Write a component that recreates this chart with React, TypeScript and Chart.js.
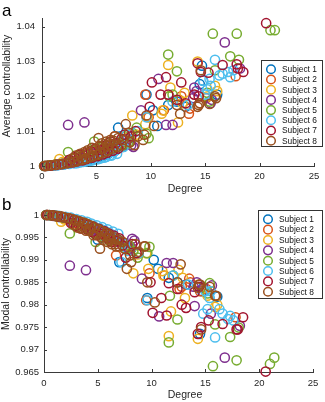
import React, { useEffect, useRef } from "react";
import { Chart, registerables } from "chart.js";
Chart.register(...registerables);

const subjects = ["Subject 1", "Subject 2", "Subject 3", "Subject 4", "Subject 5", "Subject 6", "Subject 7", "Subject 8"];
const colors = ["#0072BD", "#D95319", "#EDB120", "#7E2F8E", "#77AC30", "#4DBEEE", "#A2142F", "#99501F"];

const degreeTicks = [0, 5, 10, 15, 20, 25];
const avgTicks = [1, 1.01, 1.02, 1.03, 1.04];
const modalTicks = [0.965, 0.97, 0.975, 0.98, 0.985, 0.99, 0.995, 1];

const deg1 = [0.2,0.6,1.1,1.5,2.0,2.4,2.9,3.3,3.8,4.2,4.6,5.0,5.5,5.9,6.3,6.8,7.0,7.4,8.1,9.6,10.2,10.6,11.6,12.4,13.2,14.5,14.7,14.8,16.1,3.0,3.5,4.4,5.2,5.7,6.1,6.6,7.7];
const avg1 = [1.0000,1.0001,1.0002,1.0003,1.0005,1.0007,1.0009,1.0011,1.0014,1.0017,1.0020,1.0024,1.0029,1.0033,1.0040,1.0046,1.0110,1.0055,1.0070,1.0205,1.0160,1.0115,1.0175,1.0185,1.0170,1.0235,1.0288,1.0245,1.0205,1.0010,1.0013,1.0019,1.0025,1.0030,1.0036,1.0042,1.0062];
const mod1 = [1.0000,0.9999,0.9998,0.9995,0.9993,0.9990,0.9987,0.9983,0.9979,0.9975,0.9968,0.9945,0.9960,0.9955,0.9950,0.9944,0.9895,0.9938,0.9925,0.9815,0.9900,0.9880,0.9860,0.9850,0.9845,0.9735,0.9830,0.9838,0.9818,0.9984,0.9980,0.9972,0.9965,0.9958,0.9952,0.9946,0.9928];

const deg2 = [0.3,0.7,1.2,1.7,2.1,2.6,3.0,3.5,3.9,4.4,4.8,5.3,5.7,6.2,6.7,7.1,8.0,9.5,9.8,11.2,12.6,12.8,13.5,13.6,14.5,15.1,17.8,2.9,3.6,4.1,4.7,5.1,6.0,6.5,7.6];
const avg2 = [1.0000,1.0001,1.0003,1.0005,1.0007,1.0010,1.0013,1.0016,1.0020,1.0024,1.0028,1.0033,1.0038,1.0045,1.0085,1.0060,1.0070,1.0205,1.0140,1.0160,1.0190,1.0200,1.0150,1.0165,1.0180,1.0195,1.0258,1.0020,1.0026,1.0030,1.0040,1.0042,1.0052,1.0060,1.0075];
const mod2 = [1.0000,0.9999,0.9997,0.9995,0.9992,0.9989,0.9986,0.9982,0.9978,0.9973,0.9969,0.9963,0.9958,0.9952,0.9910,0.9940,0.9930,0.9810,0.9870,0.9865,0.9835,0.9840,0.9858,0.9850,0.9830,0.9835,0.9772,0.9982,0.9976,0.9972,0.9964,0.9960,0.9950,0.9943,0.9930];

const deg3 = [0.4,0.8,1.3,1.6,2.2,2.7,3.1,3.6,4.0,4.5,5.0,5.4,5.9,6.4,6.9,7.3,8.3,8.7,9.5,9.7,11.0,11.1,11.6,11.8,12.5,12.9,13.1,14.3,15.2,15.9,16.1,1.9,2.5,3.4,4.2,4.7,5.6,6.2,7.8];
const avg3 = [1.0000,1.0002,1.0004,1.0020,1.0008,1.0011,1.0014,1.0018,1.0022,1.0026,1.0031,1.0036,1.0041,1.0047,1.0053,1.0060,1.0145,1.0090,1.0120,1.0140,1.0150,1.0160,1.0290,1.0225,1.0125,1.0180,1.0210,1.0300,1.0200,1.0230,1.0215,1.0012,1.0016,1.0024,1.0030,1.0038,1.0046,1.0055,1.0080];
const mod3 = [1.0000,0.9999,0.9997,0.9985,0.9991,0.9988,0.9985,0.9981,0.9977,0.9972,0.9967,0.9962,0.9956,0.9950,0.9944,0.9938,0.9870,0.9912,0.9915,0.9880,0.9875,0.9865,0.9730,0.9785,0.9878,0.9860,0.9815,0.9724,0.9820,0.9795,0.9800,0.9990,0.9984,0.9978,0.9972,0.9965,0.9957,0.9948,0.9922];

const deg4 = [0.3,0.9,1.4,1.9,2.4,2.8,3.3,3.7,3.9,4.3,4.8,5.2,5.8,6.1,6.6,7.0,7.5,8.2,8.4,9.1,10.7,11.4,12.0,13.9,14.0,14.2,15.5,15.6,16.8,18.2,2.6,3.5,4.1,4.6,5.5,6.4,6.9,7.9];
const avg4 = [1.0000,1.0002,1.0004,1.0006,1.0118,1.0011,1.0014,1.0017,1.0125,1.0022,1.0027,1.0031,1.0037,1.0041,1.0047,1.0052,1.0058,1.0060,1.0055,1.0160,1.0250,1.0118,1.0118,1.0195,1.0225,1.0215,1.0180,1.0190,1.0355,1.0280,1.0016,1.0024,1.0030,1.0036,1.0045,1.0058,1.0065,1.0078];
const mod4 = [1.0000,0.9998,0.9997,0.9994,0.9887,0.9989,0.9985,0.9981,0.9877,0.9973,0.9968,0.9963,0.9957,0.9953,0.9948,0.9943,0.9937,0.9947,0.9943,0.9858,0.9774,0.9893,0.9893,0.9840,0.9797,0.9850,0.9780,0.9843,0.9682,0.9753,0.9984,0.9976,0.9970,0.9965,0.9955,0.9946,0.9940,0.9925];

const deg5 = [0.2,0.7,1.2,1.8,2.4,2.9,3.4,3.8,4.3,4.8,5.3,5.8,6.3,6.8,7.3,7.9,8.7,9.6,9.8,11.6,11.7,12.0,12.4,15.2,15.4,15.7,15.9,17.3,17.9,18.1,21.0,21.4,3.1,4.0,4.6,5.6,6.1,6.6,7.6,8.3];
const avg5 = [1.0000,1.0002,1.0004,1.0006,1.0040,1.0012,1.0015,1.0019,1.0023,1.0070,1.0033,1.0039,1.0044,1.0050,1.0057,1.0065,1.0110,1.0093,1.0080,1.0320,1.0200,1.0205,1.0272,1.0210,1.0185,1.0380,1.0275,1.0315,1.0380,1.0305,1.0390,1.0390,1.0025,1.0032,1.0045,1.0055,1.0066,1.0060,1.0085,1.0095];
const mod5 = [1.0000,0.9999,0.9997,0.9994,0.9959,0.9988,0.9984,0.9980,0.9975,0.9940,0.9963,0.9958,0.9953,0.9946,0.9940,0.9932,0.9905,0.9915,0.9929,0.9716,0.9820,0.9865,0.9767,0.9825,0.9848,0.9663,0.9756,0.9728,0.9676,0.9749,0.9668,0.9682,0.9976,0.9970,0.9960,0.9950,0.9942,0.9946,0.9925,0.9920];

const deg6 = [0.5,1.0,1.4,2.0,2.5,3.0,3.5,4.0,4.4,4.9,5.4,5.9,6.4,6.9,7.2,7.8,8.8,9.6,12.0,13.4,14.8,15.0,15.2,15.4,15.5,15.9,16.3,16.6,17.1,17.3,17.6,3.2,3.8,4.6,5.2,5.7,6.2,6.6,7.5];
const avg6 = [1.0000,1.0001,1.0002,1.0004,1.0006,1.0008,1.0010,1.0013,1.0015,1.0018,1.0022,1.0026,1.0030,1.0035,1.0070,1.0090,1.0100,1.0140,1.0185,1.0175,1.0245,1.0205,1.0220,1.0250,1.0230,1.0305,1.0260,1.0265,1.0270,1.0255,1.0275,1.0008,1.0012,1.0016,1.0020,1.0024,1.0030,1.0040,1.0055];
const mod6 = [1.0000,0.9999,0.9998,0.9996,0.9994,0.9991,0.9988,0.9985,0.9981,0.9977,0.9973,0.9968,0.9963,0.9958,0.9895,0.9920,0.9915,0.9810,0.9865,0.9845,0.9780,0.9830,0.9790,0.9815,0.9830,0.9727,0.9790,0.9780,0.9768,0.9775,0.9765,0.9986,0.9982,0.9976,0.9970,0.9964,0.9958,0.9950,0.9935];

const deg7 = [0.3,0.8,1.3,1.8,2.3,2.8,3.2,3.7,4.1,4.6,5.1,5.6,6.0,6.5,7.0,7.6,8.2,9.9,10.1,10.9,11.4,11.6,12.4,12.8,13.2,14.0,14.3,14.4,14.6,15.3,16.6,17.9,18.0,18.5,20.6,2.5,3.0,3.4,4.0,4.5,4.9,5.4,5.9,6.3,6.8,7.3,8.6];
const avg7 = [1.0000,1.0001,1.0003,1.0005,1.0008,1.0010,1.0013,1.0016,1.0020,1.0024,1.0028,1.0033,1.0038,1.0044,1.0050,1.0090,1.0085,1.0170,1.0240,1.0205,1.0255,1.0205,1.0190,1.0240,1.0180,1.0205,1.0295,1.0200,1.0270,1.0268,1.0290,1.0292,1.0280,1.0270,1.0410,1.0018,1.0025,1.0032,1.0036,1.0042,1.0050,1.0046,1.0060,1.0070,1.0066,1.0078,1.0100];
const mod7 = [1.0000,0.9999,0.9997,0.9995,0.9992,0.9989,0.9986,0.9982,0.9978,0.9974,0.9969,0.9964,0.9959,0.9954,0.9948,0.9905,0.9935,0.9850,0.9782,0.9815,0.9776,0.9848,0.9835,0.9800,0.9793,0.9828,0.9735,0.9840,0.9750,0.9765,0.9757,0.9745,0.9745,0.9772,0.9651,0.9982,0.9976,0.9970,0.9968,0.9962,0.9955,0.9958,0.9948,0.9940,0.9942,0.9932,0.9915];

const deg8 = [0.2,0.5,0.9,1.2,1.6,1.9,2.3,2.6,3.0,3.3,3.5,3.7,4.0,4.2,4.4,4.7,5.1,5.2,5.4,5.5,5.8,6.0,6.1,6.3,6.5,6.7,6.9,7.3,7.7,8.1,8.5,9.3,9.4,9.6,10.3,12.4,12.7,14.3,14.4,14.5,14.6,15.4,15.9,16.0,2.8,3.1,3.6,3.9,4.3,4.6,4.9,5.3,5.6,5.9,6.2,6.6,7.0,7.5,8.0,8.8];
const avg8 = [1.0000,1.0001,1.0002,1.0003,1.0005,1.0006,1.0008,1.0010,1.0012,1.0015,1.0035,1.0018,1.0021,1.0045,1.0025,1.0028,1.0032,1.0080,1.0036,1.0065,1.0040,1.0058,1.0045,1.0075,1.0050,1.0085,1.0055,1.0060,1.0120,1.0068,1.0060,1.0075,1.0090,1.0145,1.0115,1.0175,1.0150,1.0170,1.0175,1.0180,1.0275,1.0178,1.0200,1.0195,1.0022,1.0030,1.0028,1.0040,1.0038,1.0052,1.0048,1.0058,1.0050,1.0070,1.0062,1.0072,1.0080,1.0075,1.0095,1.0085];
const mod8 = [1.0000,1.0000,0.9999,0.9998,0.9997,0.9995,0.9993,0.9991,0.9988,0.9986,0.9970,0.9983,0.9980,0.9965,0.9976,0.9972,0.9968,0.9925,0.9964,0.9945,0.9960,0.9948,0.9955,0.9935,0.9950,0.9930,0.9945,0.9940,0.9880,0.9895,0.9935,0.9930,0.9930,0.9850,0.9805,0.9850,0.9890,0.9838,0.9845,0.9845,0.9745,0.9840,0.9820,0.9820,0.9978,0.9972,0.9975,0.9965,0.9968,0.9955,0.9958,0.9950,0.9955,0.9940,0.9945,0.9935,0.9930,0.9925,0.9910,0.9918];

const degrees = [deg1, deg2, deg3, deg4, deg5, deg6, deg7, deg8];
const avgValues = [avg1, avg2, avg3, avg4, avg5, avg6, avg7, avg8];
const modalValues = [mod1, mod2, mod3, mod4, mod5, mod6, mod7, mod8];

const FONT = "'Liberation Sans', Arial, Helvetica, sans-serif";
const AXIS = "#3a3a3a";
const TEXT = "#262626";

type Cfg = {
  values: number[][];
  yTicks: number[];
  yMin: number;
  yMax: number;
  yTitle: string;
  letter: string;
  letterY: number;
  xTitleY: number;
  yTitleX: number;
  yTitleY: number;
  legend: { x: number; y: number; w: number; h: number; first: number; step: number };
  padding: { top: number; right: number };
  yWidth: number;
  xHeight: number;
  xPad: number;
  yPad: number;
};

function decor(cfg: Cfg) {
  return {
    id: "decor",
    afterDraw(chart: any) {
      const ctx = chart.ctx;
      const ca = chart.chartArea;
      const xs = chart.scales.x;
      const ys = chart.scales.y;
      ctx.save();
      ctx.strokeStyle = AXIS;
      ctx.lineWidth = 1;
      ctx.beginPath();
      xs.ticks.forEach((t: any) => {
        const px = Math.round(xs.getPixelForValue(t.value)) + 0.5;
        ctx.moveTo(px, ca.bottom);
        ctx.lineTo(px, ca.bottom - 3);
      });
      ys.ticks.forEach((t: any) => {
        const py = Math.round(ys.getPixelForValue(t.value)) + 0.5;
        ctx.moveTo(ca.left, py);
        ctx.lineTo(ca.left + 3, py);
      });
      ctx.stroke();
      ctx.fillStyle = TEXT;
      ctx.font = `10.5px ${FONT}`;
      ctx.textAlign = "center";
      ctx.textBaseline = "middle";
      ctx.fillText("Degree", 185, cfg.xTitleY);
      ctx.save();
      ctx.translate(cfg.yTitleX, cfg.yTitleY);
      ctx.rotate(-Math.PI / 2);
      ctx.fillText(cfg.yTitle, 0, 0);
      ctx.restore();
      ctx.fillStyle = "#000";
      ctx.font = `17px ${FONT}`;
      ctx.textAlign = "left";
      ctx.textBaseline = "alphabetic";
      ctx.fillText(cfg.letter, 2, cfg.letterY);
      const L = cfg.legend;
      ctx.fillStyle = "#fff";
      ctx.fillRect(L.x, L.y, L.w, L.h);
      ctx.strokeStyle = "#333";
      ctx.lineWidth = 1;
      ctx.strokeRect(L.x + 0.5, L.y + 0.5, L.w - 1, L.h - 1);
      ctx.font = `8.4px ${FONT}`;
      ctx.textBaseline = "middle";
      subjects.forEach((s, i) => {
        const cy = L.first + i * L.step;
        ctx.beginPath();
        ctx.strokeStyle = colors[i];
        ctx.lineWidth = 1.5;
        ctx.arc(L.x + 10, cy, 4.3, 0, Math.PI * 2);
        ctx.stroke();
        ctx.fillStyle = "#111";
        ctx.fillText(s, L.x + 21, cy + 0.5);
      });
      ctx.restore();
    },
  };
}

function Panel({ cfg, width, height }: { cfg: Cfg; width: number; height: number }) {
  const ref = useRef<HTMLCanvasElement | null>(null);
  useEffect(() => {
    if (!ref.current) return;
    const datasets = subjects.map((s, i) => ({
      label: s,
      data: degrees[i].map((d, j) => ({ x: d, y: cfg.values[i][j] })),
      borderColor: colors[i],
      backgroundColor: "rgba(0,0,0,0)",
      borderWidth: 1.5,
      pointRadius: 4.6,
      pointHoverRadius: 4.6,
      order: 8 - i,
      clip: false as any,
    }));
    const chart = new Chart(ref.current, {
      type: "scatter",
      data: { datasets },
      options: {
        animation: false,
        responsive: false,
        devicePixelRatio: 1,
        events: [],
        layout: { padding: { left: 0, right: cfg.padding.right, top: cfg.padding.top, bottom: 0 } },
        plugins: { legend: { display: false }, tooltip: { enabled: false } },
        scales: {
          x: {
            type: "linear",
            min: 0,
            max: 25,
            afterBuildTicks: (s: any) => {
              s.ticks = degreeTicks.map((v) => ({ value: v }));
            },
            afterFit: (s: any) => {
              s.height = cfg.xHeight;
            },
            grid: { drawOnChartArea: false, drawTicks: false },
            border: { display: true, color: AXIS, width: 1 },
            ticks: {
              padding: cfg.xPad,
              color: TEXT,
              font: { family: FONT, size: 9.5 },
              maxRotation: 0,
              autoSkip: false,
              callback: (v: any) => String(v),
            },
          },
          y: {
            type: "linear",
            min: cfg.yMin,
            max: cfg.yMax,
            afterBuildTicks: (s: any) => {
              s.ticks = cfg.yTicks.map((v) => ({ value: v }));
            },
            afterFit: (s: any) => {
              s.width = cfg.yWidth;
            },
            grid: { drawOnChartArea: false, drawTicks: false },
            border: { display: true, color: AXIS, width: 1 },
            ticks: {
              padding: cfg.yPad,
              color: TEXT,
              font: { family: FONT, size: 9.5 },
              autoSkip: false,
              callback: (v: any) => String(v),
            },
          },
        },
      },
      plugins: [decor(cfg)],
    });
    return () => chart.destroy();
  }, []);
  return <canvas ref={ref} width={width} height={height} style={{ display: "block", width, height }} />;
}

const topCfg: Cfg = {
  values: avgValues,
  yTicks: avgTicks,
  yMin: 1,
  yMax: 1.0425,
  yTitle: "Average controllability",
  letter: "a",
  letterY: 16,
  xTitleY: 189,
  yTitleX: 7,
  yTitleY: 86,
  legend: { x: 261, y: 60, w: 62, h: 87, first: 69.3, step: 10.2 },
  padding: { top: 18, right: 11 },
  yWidth: 42,
  xHeight: 29,
  xPad: 5,
  yPad: 7,
};

const bottomCfg: Cfg = {
  values: modalValues,
  yTicks: modalTicks,
  yMin: 0.965,
  yMax: 1,
  yTitle: "Modal controllability",
  letter: "b",
  letterY: 15,
  xTitleY: 200,
  yTitleX: 6,
  yTitleY: 89,
  legend: { x: 258, y: 15, w: 65, h: 89, first: 24.3, step: 10.35 },
  padding: { top: 20, right: 12 },
  yWidth: 44,
  xHeight: 30,
  xPad: 6,
  yPad: 5,
};

export default function App() {
  return (
    <div style={{ position: "fixed", left: 0, top: 0, width: 325, height: 402, background: "#fff" }}>
      <Panel cfg={topCfg} width={325} height={195} />
      <Panel cfg={bottomCfg} width={325} height={207} />
    </div>
  );
}
